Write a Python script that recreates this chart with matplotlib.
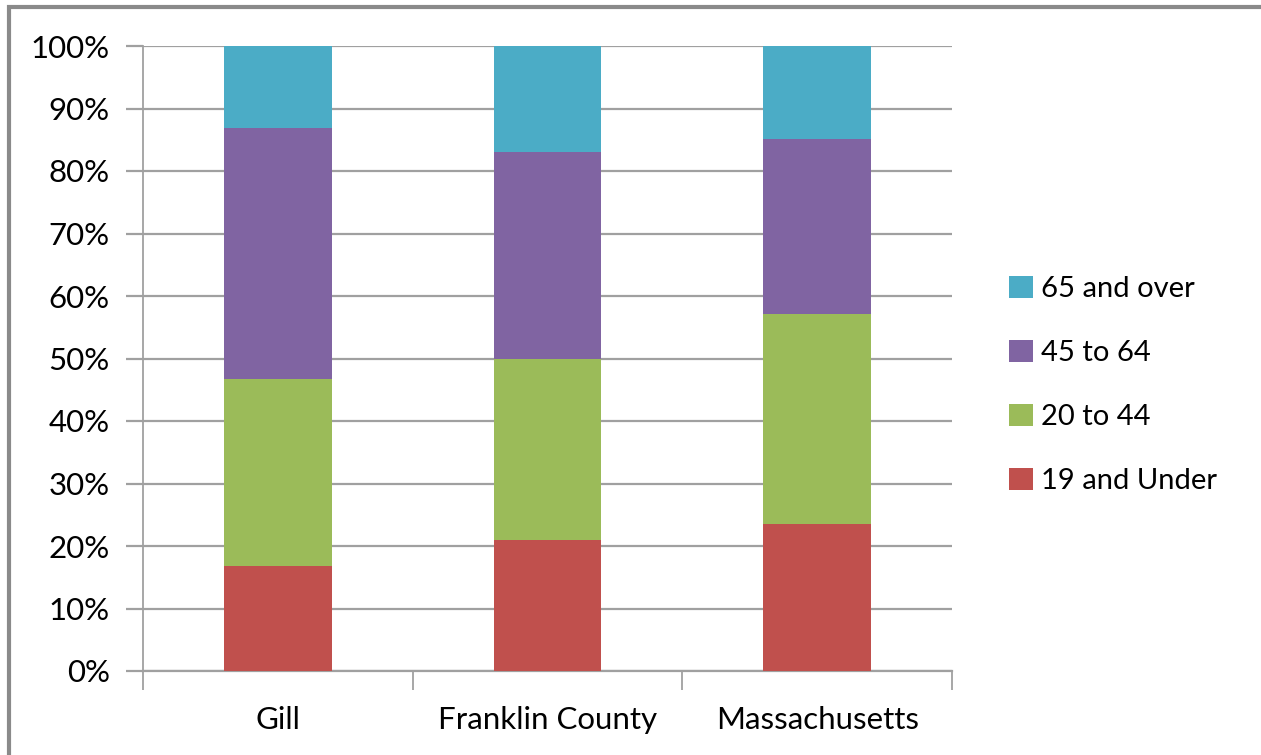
import matplotlib.pyplot as plt
from matplotlib.patches import Rectangle
from matplotlib.ticker import FixedLocator, PercentFormatter

plt.rcParams['font.family'] = ['Lato', 'DejaVu Sans']

places = ["Gill", "Franklin County", "Massachusetts"]
age_groups = ["19 and Under", "20 to 44", "45 to 64", "65 and over"]
under_19 = [16.8, 20.9, 23.6]
age_20_44 = [29.9, 29.0, 33.5]
age_45_64 = [40.2, 33.1, 28.1]
over_65 = [13.1, 17.0, 14.8]
colors = ["#c0504d", "#9bbb59", "#8064a2", "#4bacc6"]

fig = plt.figure(figsize=(12.61, 7.55), dpi=100)
ax = fig.add_axes([143 / 1261, 84 / 755, 809 / 1261, 625 / 755])

# stacked columns
bottom = [0, 0, 0]
for vals, name, col in zip([under_19, age_20_44, age_45_64, over_65], age_groups, colors):
    ax.bar(range(len(places)), vals, width=0.4, bottom=bottom, color=col,
           label=name, zorder=3)
    bottom = [b + v for b, v in zip(bottom, vals)]

ax.set_xlim(-0.5, 2.5)
ax.set_ylim(0, 100)
ax.set_yticks(range(0, 101, 10))
ax.yaxis.set_major_formatter(PercentFormatter(decimals=0))
ax.grid(axis="y", color="#a0a0a0", linewidth=1.6, zorder=0)

ax.set_xticks(range(len(places)))
ax.set_xticklabels(places)
ax.xaxis.set_minor_locator(FixedLocator([-0.5, 0.5, 1.5, 2.5]))
ax.tick_params(axis="x", which="major", length=0, pad=25, labelsize=22.5)
ax.tick_params(axis="x", which="minor", length=14, width=1.3, color="#a0a0a0")
ax.tick_params(axis="y", length=12, width=1.6, color="#a0a0a0", pad=12, labelsize=22.5)

for side in ["top", "right"]:
    ax.spines[side].set_visible(False)
ax.spines["left"].set_color("#a0a0a0")
ax.spines["bottom"].set_color("#a0a0a0")
ax.spines["left"].set_linewidth(1.3)
ax.spines["bottom"].set_linewidth(1.6)

handles, labels = ax.get_legend_handles_labels()
ax.legend(handles[::-1], labels[::-1], loc="center left",
          bbox_to_anchor=(983 / 1261, 370 / 755), bbox_transform=fig.transFigure,
          frameon=False, fontsize=21, handlelength=0.8, handleheight=0.8,
          handletextpad=0.3, labelspacing=1.3)

# outer frame of the chart area (top and left edges only show)
fig.patches.append(Rectangle((9 / 1261, -0.05), 1.2, (755 - 6.5) / 755 + 0.05,
                             transform=fig.transFigure, fill=False,
                             edgecolor="#8a8a8a", linewidth=3))

fig.savefig("out.png", dpi=100)
